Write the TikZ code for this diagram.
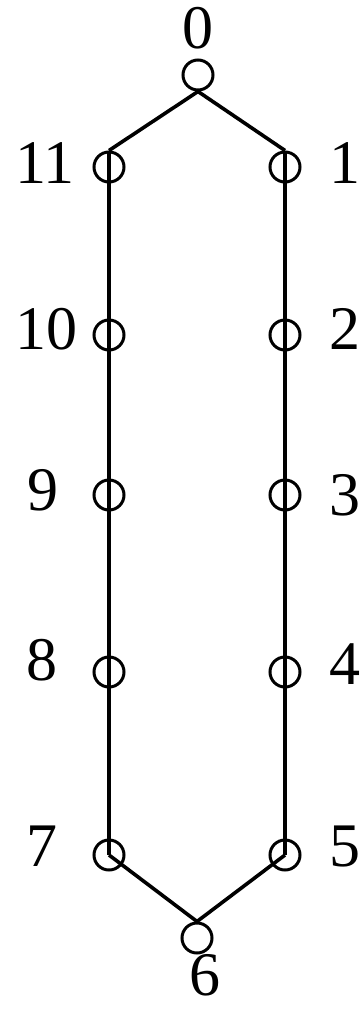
\documentclass[tikz,border=0pt]{standalone}
\usepackage{fontspec}
\setmainfont{Liberation Serif}

\begin{document}
\begin{tikzpicture}[
  x=1pt, y=-1pt,
  vtx/.style ={circle, draw, line width=3pt, minimum size=30pt, inner sep=0pt},
  edge/.style={line width=3.6pt},
  lbl/.style ={font=\fontsize{62}{62}\selectfont, inner sep=0pt},
]
\useasboundingbox (0,0) rectangle (363,1010);

% ---------- vertices of the 12-cycle ----------
\foreach \i/\x/\y in {0/198/75, 1/285/167, 2/285/335, 3/285/495, 4/285/672, 5/285/855,
                      6/197/938, 7/109/855, 8/109/672, 9/109/495, 10/109/335, 11/109/167}
  \node[vtx] (n\i) at (\x,\y) {};

% ---------- vertex numbers ----------
\foreach \i/\x/\y in {0/198/28, 1/345/163, 2/345/329, 3/345/495, 4/345/664, 5/345/846,
                      6/205/975, 7/42/846, 8/42/660, 9/43/490, 10/47/329, 11/45/163}
  \node[lbl] (l\i) at (\x,\y) {\i};

% ---------- cycle edges ----------
\foreach \a/\b in {n0.south/n1.north, n1.north/n2.center, n2.center/n3.center,
                   n3.center/n4.center, n4.center/n5.center, n5.center/n6.north,
                   n0.south/n11.north, n11.north/n10.center, n10.center/n9.center,
                   n9.center/n8.center, n8.center/n7.center, n7.center/n6.north}
  \draw[edge] (\a) -- (\b);

\end{tikzpicture}
\end{document}
